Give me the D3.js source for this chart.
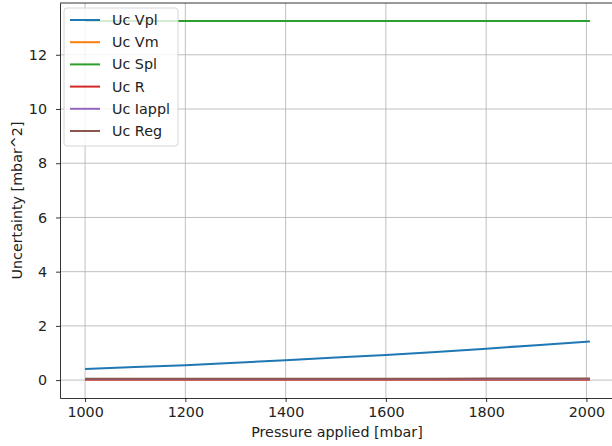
<!DOCTYPE html>
<html>
<head>
<meta charset="utf-8">
<script src="https://cdn.jsdelivr.net/npm/d3@7"></script>
<style>
  body { margin: 0; background: #fff; }
  svg { display: block; font-family: "DejaVu Sans", sans-serif; }
</style>
</head>
<body>
<svg width="612" height="446"></svg>
<script>
// pressure points (mbar)
const pressure = [1000, 1100, 1200, 1300, 1400, 1500, 1600, 1700, 1800, 1900, 2007];

// values (mbar^2)
const ucVpl   = [0.41, 0.48, 0.55, 0.64, 0.73, 0.83, 0.93, 1.04, 1.16, 1.29, 1.42];
const ucVm    = [0.01, 0.01, 0.01, 0.01, 0.01, 0.01, 0.01, 0.01, 0.01, 0.01, 0.01];
const ucSpl   = [13.25, 13.25, 13.25, 13.25, 13.25, 13.25, 13.25, 13.25, 13.25, 13.25, 13.25];
const ucR     = [0.02, 0.02, 0.02, 0.02, 0.02, 0.02, 0.02, 0.02, 0.02, 0.02, 0.02];
const ucIappl = [0.03, 0.03, 0.03, 0.03, 0.03, 0.03, 0.03, 0.03, 0.03, 0.03, 0.03];
const ucReg   = [0.05, 0.05, 0.05, 0.05, 0.05, 0.05, 0.05, 0.05, 0.06, 0.06, 0.06];

const seriesNames = ["Uc Vpl", "Uc Vm", "Uc Spl", "Uc R", "Uc Iappl", "Uc Reg"];
const seriesValues = [ucVpl, ucVm, ucSpl, ucR, ucIappl, ucReg];
const colors = ["#1f77b4", "#ff7f0e", "#2ca02c", "#d62728", "#9467bd", "#8c564b"];

const xTicks = [1000, 1200, 1400, 1600, 1800, 2000];
const yTicks = [0, 2, 4, 6, 8, 10, 12];

const svg = d3.select("svg");
const m_left = 60, m_top = 3, m_right = 615, m_bottom = 398;
const fontSize = "14.3px";

const x = d3.scaleLinear().domain([950, 2057]).range([m_left, m_right]);
const y = d3.scaleLinear().domain([-0.66, 13.91]).range([m_bottom, m_top]);

// grid
const grid = svg.append("g");
grid.selectAll(".gx").data(xTicks).enter().append("line")
    .attr("x1", d => x(d)).attr("x2", d => x(d))
    .attr("y1", m_top).attr("y2", m_bottom)
    .style("stroke", "#b0b0b0").style("stroke-width", 0.8);
grid.selectAll(".gy").data(yTicks).enter().append("line")
    .attr("x1", m_left).attr("x2", m_right)
    .attr("y1", d => y(d)).attr("y2", d => y(d))
    .style("stroke", "#b0b0b0").style("stroke-width", 0.8);

// lines
const line = d3.line()
    .x((d, i) => x(pressure[i]))
    .y(d => y(d));

svg.append("g").selectAll("path")
    .data(seriesValues)
    .enter()
    .append("path")
    .attr("d", d => line(d))
    .style("fill", "none")
    .style("stroke", (d, i) => colors[i])
    .style("stroke-width", 2);

// axes
const xAxis = svg.append("g")
    .attr("transform", `translate(0,${m_bottom})`)
    .call(d3.axisBottom(x).tickValues(xTicks).tickSize(4).tickSizeOuter(0)
        .tickPadding(5).tickFormat(d3.format("d")));
const yAxis = svg.append("g")
    .attr("transform", `translate(${m_left},0)`)
    .call(d3.axisLeft(y).tickValues(yTicks).tickSize(4).tickSizeOuter(0)
        .tickPadding(9).tickFormat(d3.format("d")));

[xAxis, yAxis].forEach(a => {
    a.select(".domain").style("stroke", "#000").style("stroke-width", 0.8);
    a.selectAll(".tick line").style("stroke", "#000").style("stroke-width", 0.8);
    a.selectAll("text").style("font-size", fontSize).style("fill", "#222")
        .style("font-family", "DejaVu Sans, sans-serif");
});

// top spine
svg.append("line")
    .attr("x1", m_left).attr("x2", m_right).attr("y1", m_top).attr("y2", m_top)
    .style("stroke", "#000").style("stroke-width", 0.8);

// axis labels
svg.append("text")
    .attr("x", 337).attr("y", 437)
    .attr("text-anchor", "middle")
    .style("font-size", fontSize).style("fill", "#222")
    .text("Pressure applied [mbar]");

svg.append("text")
    .attr("transform", `translate(22,${(m_top + m_bottom) / 2}) rotate(-90)`)
    .attr("text-anchor", "middle")
    .style("font-size", fontSize).style("fill", "#222")
    .text("Uncertainty [mbar^2]");

// legend
const legend = svg.append("g").attr("transform", "translate(64,8)");
legend.append("rect")
    .attr("width", 114).attr("height", 138)
    .attr("rx", 3)
    .style("fill", "#fff").style("fill-opacity", 0.8)
    .style("stroke", "#cccccc").style("stroke-width", 0.8);

const entries = legend.selectAll(".entry")
    .data(seriesNames)
    .enter()
    .append("g")
    .attr("transform", (d, i) => `translate(0,${12 + i * 22.2})`);

entries.append("line")
    .attr("x1", 6).attr("x2", 36)
    .style("stroke", (d, i) => colors[i])
    .style("stroke-width", 2);

entries.append("text")
    .attr("x", 48).attr("dy", "0.35em")
    .style("font-size", fontSize).style("fill", "#222")
    .text(d => d);
</script>
</body>
</html>
